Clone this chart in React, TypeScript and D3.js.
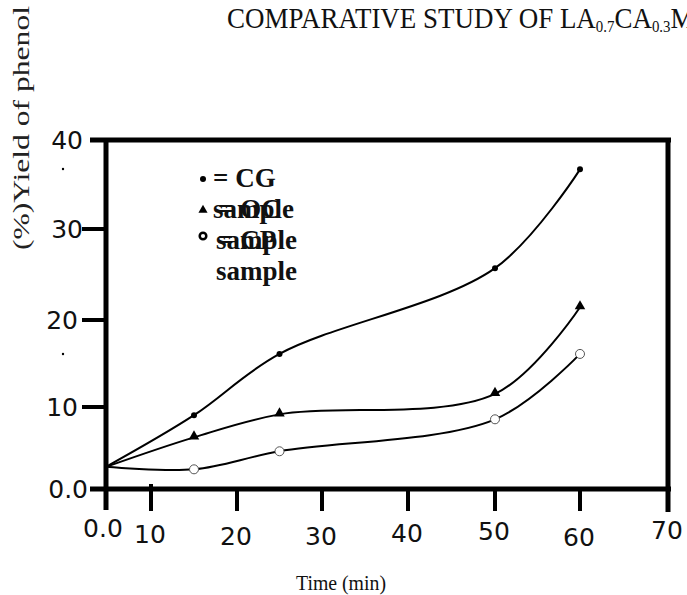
import React from "react";
import * as d3 from "d3";

// ---- data ----
const times = [0, 15, 25, 50, 60];
const cgYield = [2.7, 9.0, 16.1, 25.7, 36.7];
const ocYield = [2.7, 6.3, 9.1, 11.5, 21.4];
const cpYield = [2.7, 2.4, 4.6, 8.5, 16.1];

const xTicks = [0, 10, 20, 30, 40, 50, 60, 70];
const xTickLabels = ["0.0", "10", "20", "30", "40", "50", "60", "70"];
const yTicks = [0, 10, 20, 30, 40];
const yTickLabels = ["0.0", "10", "20", "30", "40"];

const legendNames = ["= CG", "= OC", "= CP"];
const legendSub = "sample";

const W = 687;
const H = 595;

export default function App() {
  // the scanned chart is slightly irregular, so use piecewise-linear scales
  const x = d3.scaleLinear().domain(xTicks).range([106, 151, 237, 322, 408, 495, 580, 668]);
  const y = d3.scaleLinear().domain(yTicks).range([489, 407, 320, 229, 140]);

  const line = d3
    .line<[number, number]>()
    .x((d) => x(d[0]))
    .y((d) => y(d[1]))
    .curve(d3.curveCatmullRom.alpha(0.5));

  const series = [cgYield, ocYield, cpYield];
  const paths = series.map((s) => line(times.map((t, i) => [t, s[i]] as [number, number])) || "");

  const tri = d3.symbol().type(d3.symbolTriangle).size(48)() || "";

  const xLabelDy = [-2, 4, 6, 6, 3, 1, 7, 0];
  const axisFont = "'DejaVu Sans', sans-serif";
  const serif = "'Liberation Serif', serif";

  return (
    <svg width={W} height={H} style={{ position: "absolute", left: 0, top: 0, background: "#fff" }}>
      <rect x={0} y={0} width={W} height={H} fill="#fff" />
      {/* title */}
      <text transform="translate(227,28) scale(0.93,1)" fontFamily={serif} fontSize={29} fill="#111">
        COMPARATIVE STUDY OF LA
        <tspan fontSize={16} dy={4}>0.7</tspan>
        <tspan dy={-4}>CA</tspan>
        <tspan fontSize={16} dy={4}>0.3</tspan>
        <tspan dy={-4}>MnO</tspan>
      </text>

      {/* y axis title */}
      <text
        transform="translate(29,128) rotate(-90)"
        textAnchor="middle"
        fontFamily={serif}
        fontSize={23}
        textLength={244}
        lengthAdjust="spacingAndGlyphs"
        fill="#222"
      >
        (%)Yield of phenol
      </text>

      {/* frame */}
      <line x1={90} x2={671} y1={y(40)} y2={y(40)} stroke="#000" strokeWidth={5} />
      <line x1={90} x2={671} y1={y(0)} y2={y(0)} stroke="#000" strokeWidth={5} />
      <line x1={x(0)} x2={x(0)} y1={y(40) - 2} y2={510} stroke="#000" strokeWidth={5} />
      <line x1={x(70)} x2={x(70)} y1={y(40) - 2} y2={512} stroke="#000" strokeWidth={5} />

      {/* y ticks */}
      {yTicks.map((t, i) => (
        <g key={"yt" + t}>
          {t > 0 && t < 40 && (
            <line x1={82} x2={x(0)} y1={y(t)} y2={y(t)} stroke="#000" strokeWidth={4} />
          )}
          <text
            x={t === 0 ? 88 : t === 40 || t === 30 ? 83 : 78}
            y={y(t)}
            dy="0.36em"
            textAnchor="end"
            fontFamily={axisFont}
            fontSize={25}
            fill="#111"
          >
            {yTickLabels[i]}
          </text>
        </g>
      ))}
      <circle cx={63} cy={169} r={1.2} fill="#000" />
      <circle cx={63} cy={354} r={1.2} fill="#000" />

      {/* x ticks */}
      {xTicks.map((t, i) => (
        <g key={"xt" + t}>
          {t > 0 && t < 70 && (
            <line x1={x(t)} x2={x(t)} y1={t === 10 ? 484 : y(0)} y2={511} stroke="#000" strokeWidth={4} />
          )}
          <text
            x={t === 0 ? 103 : x(t) - 1}
            y={530 + xLabelDy[i]}
            dy="0.36em"
            textAnchor="middle"
            fontFamily={axisFont}
            fontSize={25}
            fill="#111"
          >
            {xTickLabels[i]}
          </text>
        </g>
      ))}

      {/* x axis title */}
      <text
        x={296}
        y={590}
        fontFamily={serif}
        fontSize={21}
        textLength={90}
        lengthAdjust="spacingAndGlyphs"
        fill="#111"
      >
        Time (min)
      </text>

      {/* series */}
      {paths.map((p, i) => (
        <path key={"p" + i} d={p} fill="none" stroke="#000" strokeWidth={2} />
      ))}
      {times.slice(1).map((t, j) => (
        <g key={"m" + t}>
          <circle cx={x(t)} cy={y(cgYield[j + 1])} r={3} fill="#000" />
          <path d={tri} transform={`translate(${x(t)},${y(ocYield[j + 1]) - 1})`} fill="#000" />
          <circle cx={x(t)} cy={y(cpYield[j + 1])} r={4.5} fill="#fff" stroke="#555" strokeWidth={1} />
        </g>
      ))}

      {/* legend */}
      <g fontFamily={serif} fontWeight="bold" fontSize={27} fill="#111">
        <circle cx={203} cy={179} r={3} fill="#000" />
        <path d={d3.symbol().type(d3.symbolTriangle).size(36)() || ""} transform="translate(203,210)" fill="#000" />
        <circle cx={203} cy={236} r={3.3} fill="none" stroke="#000" strokeWidth={2.5} />
        {legendNames.map((n, i) => (
          <g key={"lg" + i}>
            <text x={i === 0 ? 213 : 218} y={187 + i * 31}>{n}</text>
            <text x={i === 0 ? 213 : 216} y={218 + i * 31}>{legendSub}</text>
          </g>
        ))}
      </g>
    </svg>
  );
}
